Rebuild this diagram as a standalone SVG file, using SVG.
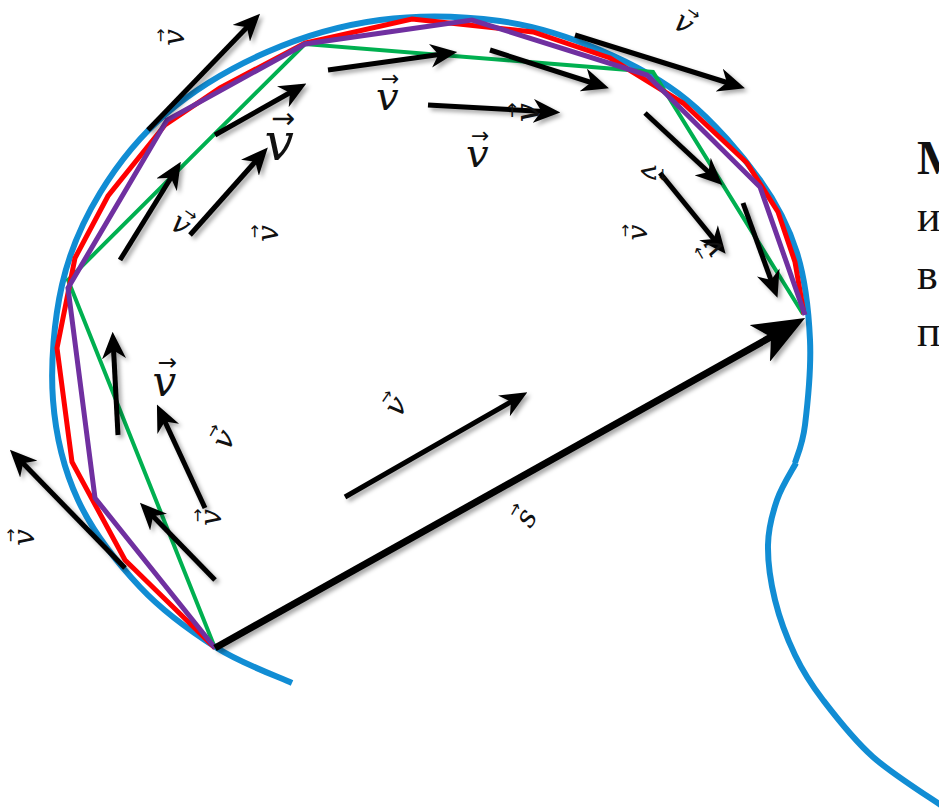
<svg xmlns="http://www.w3.org/2000/svg" width="939" height="811" viewBox="0 0 939 811">
<style>
.blue{fill:none;stroke:#118dd4;stroke-width:6;stroke-linecap:butt}
.poly{fill:none;stroke-linejoin:miter;stroke-linecap:butt}
.arr{stroke:#000;stroke-width:5;fill:none;marker-end:url(#ah)}
.lbl{font-family:"DejaVu Serif",serif;font-style:italic;fill:#111;font-size:100px}
.vec{font-family:"DejaVu Sans",sans-serif;font-style:normal;font-size:55px}
.ru{font-family:"Liberation Serif","Times New Roman",serif;fill:#111}
</style>
<defs>
<marker id="ah" viewBox="0 0 10 10" markerUnits="userSpaceOnUse" markerWidth="27" markerHeight="24" refX="7.3" refY="5" orient="auto" preserveAspectRatio="none">
<path d="M0,0 L10,5 L0,10 L3,5 z" fill="#000"/>
</marker>
<marker id="ahb" viewBox="0 0 10 10" markerUnits="userSpaceOnUse" markerWidth="52" markerHeight="42" refX="8" refY="5" orient="auto" preserveAspectRatio="none">
<path d="M0,0 L10,5 L0,10 L2.5,5 z" fill="#000"/>
</marker>
<filter id="sh" x="-20%" y="-20%" width="140%" height="140%">
<feDropShadow dx="3" dy="3" stdDeviation="2" flood-color="#000" flood-opacity="0.35"/>
</filter>
</defs>
<rect width="939" height="811" fill="#fff"/>

<g id="trajectory">
<path class="blue" d="M292,683 C279.5,677.2 242.3,664 217,648 C191.7,632 163.2,611.7 140,587 C116.8,562.3 92.5,531.2 78,500 C63.5,468.8 55.7,435.8 53,400 C50.3,364.2 54.2,319.5 62,285 C69.8,250.5 82.5,221.7 100,193 C117.5,164.3 139.2,136.5 167,113 C194.8,89.5 231.5,67.5 267,52 C302.5,36.5 341.2,25.2 380,20 C418.8,14.8 463.3,16 500,21 C536.7,26 568.8,36.8 600,50 C631.2,63.2 660.3,78.3 687,100 C713.7,121.7 741.7,154.5 760,180 C778.3,205.5 788.7,226.3 797,253 C805.3,279.7 808.7,311.3 810,340 C811.3,368.7 807.5,404.5 805,425 C802.5,445.5 796.7,456.7 795,463"/>
<path class="blue" d="M796,463 C792.8,469.2 781.7,486.3 777,500 C772.3,513.7 768.3,528.3 768,545 C767.7,561.7 770.5,581.7 775,600 C779.5,618.3 787,638.3 795,655 C803,671.7 810,683 823,700 C836,717 852.7,739 873,757 C893.3,775 933,799.5 945,808"/>
</g>

<g id="chords">
<polyline class="poly" stroke="#00b050" stroke-width="4" points="215,648 68,280 305,44 653,72 803,314"/>
<polyline class="poly" stroke="#ff0000" stroke-width="5" points="215,648 125,560 72,462 57,348 75,258 108,196 165,125 220,88 305,43 412,19 533,32 610,58 683,103 747,163 778,212 795,262 804,314"/>
<polyline class="poly" stroke="#7030a0" stroke-width="5" points="215,648 95,498 68,288 167,120 305,44 472,20 647,75 760,187 805,315"/>
</g>

<g id="connectors" filter="url(#sh)">
<line class="arr" x1="148" y1="130" x2="255" y2="19"/>
<line class="arr" x1="215" y1="135" x2="300" y2="87"/>
<line class="arr" x1="120" y1="260" x2="177" y2="168"/>
<line class="arr" x1="190" y1="235" x2="263" y2="153"/>
<line class="arr" x1="328" y1="70" x2="450" y2="53"/>
<line class="arr" x1="490" y1="50" x2="602" y2="86"/>
<line class="arr" x1="428" y1="105" x2="553" y2="112"/>
<line class="arr" x1="575" y1="35" x2="738" y2="86"/>
<line class="arr" x1="645" y1="113" x2="717" y2="180"/>
<line class="arr" x1="660" y1="173" x2="721" y2="248"/>
<line class="arr" x1="743" y1="203" x2="775" y2="291"/>
<line class="arr" x1="118" y1="435" x2="113" y2="339"/>
<line class="arr" x1="205" y1="508" x2="160" y2="411"/>
<line class="arr" x1="215" y1="580" x2="145" y2="508"/>
<line class="arr" x1="125" y1="568" x2="15" y2="455"/>
<line class="arr" x1="345" y1="497" x2="521" y2="396"/>
<line stroke="#000" stroke-width="7" x1="215" y1="648" x2="796" y2="323" marker-end="url(#ahb)"/>
</g>

<g id="labels">
<text class="lbl" x="-30" y="26" transform="translate(176,37) rotate(-90) scale(0.3)">𝑣<tspan class="vec" dx="-44" dy="-61">→</tspan></text>
<text class="lbl" x="-30" y="26" transform="translate(280,146) scale(0.52)">𝑣<tspan class="vec" dx="-44" dy="-61">→</tspan></text>
<text class="lbl" x="-30" y="26" transform="translate(180,226) rotate(35) scale(0.3)">𝑣<tspan class="vec" dx="-44" dy="-61">→</tspan></text>
<text class="lbl" x="-30" y="26" transform="translate(270,233) rotate(-90) scale(0.3)">𝑣<tspan class="vec" dx="-44" dy="-61">→</tspan></text>
<text class="lbl" x="-30" y="26" transform="translate(388,100) scale(0.4)">𝑣<tspan class="vec" dx="-44" dy="-61">→</tspan></text>
<text class="lbl" x="-30" y="26" transform="translate(478,157) scale(0.4)">𝑣<tspan class="vec" dx="-44" dy="-61">→</tspan></text>
<text class="lbl" x="-30" y="26" transform="translate(530,112) rotate(-90) scale(0.34)">𝑣<tspan class="vec" dx="-44" dy="-61">→</tspan></text>
<text class="lbl" x="-30" y="26" transform="translate(683,25) rotate(35) scale(0.3)">𝑣<tspan class="vec" dx="-44" dy="-61">→</tspan></text>
<text class="lbl" x="-30" y="26" transform="translate(648,173) rotate(90) scale(0.28)">𝑣<tspan class="vec" dx="-44" dy="-61">→</tspan></text>
<text class="lbl" x="-30" y="26" transform="translate(640,232) rotate(-90) scale(0.28)">𝑣<tspan class="vec" dx="-44" dy="-61">→</tspan></text>
<text class="lbl" x="-30" y="26" transform="translate(714,247) rotate(-120) scale(0.3)">𝑣<tspan class="vec" dx="-44" dy="-61">→</tspan></text>
<text class="lbl" x="-30" y="26" transform="translate(165,385) scale(0.42)">𝑣<tspan class="vec" dx="-44" dy="-61">→</tspan></text>
<text class="lbl" x="-30" y="26" transform="translate(226,440) rotate(-60) scale(0.3)">𝑣<tspan class="vec" dx="-44" dy="-61">→</tspan></text>
<text class="lbl" x="-30" y="26" transform="translate(213,517) rotate(-90) scale(0.3)">𝑣<tspan class="vec" dx="-44" dy="-61">→</tspan></text>
<text class="lbl" x="-30" y="26" transform="translate(26,537) rotate(-90) scale(0.3)">𝑣<tspan class="vec" dx="-44" dy="-61">→</tspan></text>
<text class="lbl" x="-30" y="26" transform="translate(398,407) rotate(-55) scale(0.3)">𝑣<tspan class="vec" dx="-44" dy="-61">→</tspan></text>
<text class="lbl" x="-28" y="26" transform="translate(528,518) rotate(-60) scale(0.3)">𝑠<tspan class="vec" dx="-44" dy="-61">→</tspan></text>
</g>

<g id="caption">
<text class="ru" x="917" y="174" font-size="48" font-weight="bold">М</text>
<text class="ru" x="917" y="231" font-size="44">и</text>
<text class="ru" x="917" y="289" font-size="44">в</text>
<text class="ru" x="917" y="346" font-size="44">п</text>
</g>
</svg>
